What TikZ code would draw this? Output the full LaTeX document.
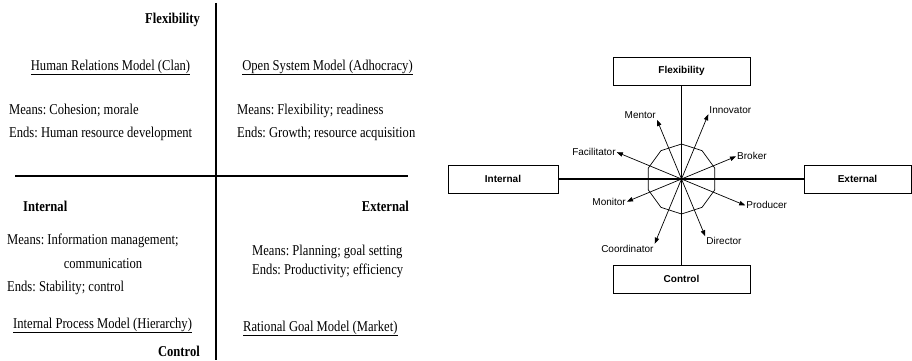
\documentclass[tikz,border=0pt]{standalone}
\usepackage{fontspec}
\setmainfont{Liberation Serif}[FakeStretch=0.84]
\newfontfamily\rolefont{Liberation Sans}
\usetikzlibrary{arrows.meta,shapes.geometric}
\frenchspacing

\begin{document}
\begin{tikzpicture}[
    x=1bp, y=1bp,
    every node/.style={inner sep=1bp},
    txt/.style={font=\fontsize{15bp}{17bp}\selectfont, anchor=base west},
    hd/.style={txt, font=\fontsize{15bp}{17bp}\selectfont\bfseries},
    axis/.style={line width=1.1bp},
    pole/.style={rectangle, draw, line width=0.9bp, minimum height=28bp,
          font=\rolefont\fontsize{10bp}{12bp}\selectfont\bfseries},
    arr/.style={-{Triangle[length=6bp,width=4.5bp]}, line width=0.7bp},
    role/.style={font=\rolefont\fontsize{10bp}{12bp}\selectfont},
]
    \useasboundingbox (0,0) rectangle (912,360);

    % competing values frame
    \coordinate (vtop) at (216,357);
    \coordinate (vbot) at (216,0);
    \coordinate (hleft) at (15,184);
    \coordinate (hright) at (408,184);
    \draw[axis] (vtop) -- (vbot);
    \draw[axis] (hleft) -- (hright);

    \node[hd, anchor=base east] (flexl) at (201,337) {Flexibility};
    \node[hd, anchor=base east] (ctrll) at (201,4) {Control};
    \node[hd] (intl) at (22,149) {Internal};
    \node[hd, anchor=base east] (extl) at (410,149) {External};

    \node[txt, anchor=base] (hrm) at (110.5,290) {\underline{Human Relations Model (Clan)}};
    \node[txt] (hrma) at (8,246) {Means: Cohesion; morale};
    \node[txt] (hrmb) at (8,223) {Ends: Human resource development};

    \node[txt, anchor=base] (osm) at (327.5,290) {\underline{Open System Model (Adhocracy)}};
    \node[txt] (osma) at (236,246) {Means: Flexibility; readiness};
    \node[txt] (osmb) at (236,223) {Ends: Growth; resource acquisition};

    \node[txt] (ipma) at (6,116) {Means: Information management;};
    \node[txt, anchor=base] (ipmc) at (103,92) {communication};
    \node[txt] (ipmb) at (6,69) {Ends: Stability; control};
    \node[txt] (ipm) at (12,32) {\underline{Internal Process Model (Hierarchy)}};

    \node[txt] (rgma) at (251,105) {Means: Planning; goal setting};
    \node[txt] (rgmb) at (251,86) {Ends: Productivity; efficiency};
    \node[txt] (rgm) at (242,29) {\underline{Rational Goal Model (Market)}};

    % leadership roles
    \coordinate (o) at (681.5,181);
    \node[pole, minimum width=137bp] (flex) at (681.5,289) {Flexibility};
    \node[pole, minimum width=137bp] (ctrl) at (681.5,81) {Control};
    \node[pole, minimum width=110bp] (int) at (503,181) {Internal};
    \node[pole, minimum width=107bp] (ext) at (857.5,181) {External};
    \draw[line width=1.6bp] (flex) -- (ctrl);
    \draw[line width=1.6bp] (int) -- (ext);

    \node[draw, line width=0.7bp, regular polygon, regular polygon sides=10,
          minimum size=70bp, inner sep=0pt, shape border rotate=18] (dec) at (o) {};

    \begin{scope}[shift={(o)}]
    \foreach \ang/\len/\nm/\txt/\anc in {
        112.5/64/mentor/Mentor/south east,
        67.5/70/innov/Innovator/south west,
        22.5/59/broker/Broker/west,
        -22.5/69/prod/Producer/west,
        -67.5/62/dir/Director/north west,
        -112.5/70/coord/Coordinator/north east,
        -157.5/59/mon/Monitor/east,
        157.5/70/facil/Facilitator/east} {
        \coordinate (\nm tip) at (\ang:\len);
        \draw[arr] (o) -- (\nm tip);
        \node[role, anchor=\anc] (\nm) at (\nm tip) {\txt};
    }
    \end{scope}
\end{tikzpicture}
\end{document}
